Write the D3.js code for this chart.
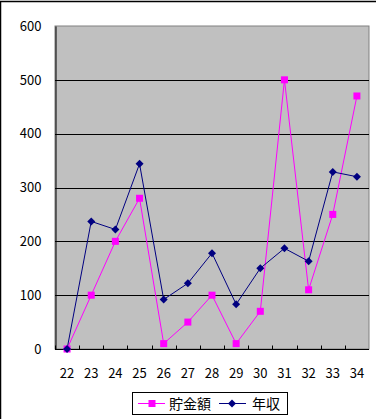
<!DOCTYPE html>
<html lang="ja">
<head>
  <meta charset="UTF-8">
  <title>貯金額と年収</title>
  <style>
    body { margin: 0; background: #fff; }
    svg { display: block; }
    text { font-family: "Noto Sans CJK JP", "DejaVu Sans", sans-serif; }
  </style>
  <script src="https://d3js.org/d3.v7.min.js"></script>
</head>
<body>
  <svg id="chart" width="389" height="419"></svg>

  <script>
    // data
    const ages = ['22', '23', '24', '25', '26', '27', '28', '29', '30', '31', '32', '33', '34'];
    const savings = [0, 100, 200, 280, 10, 50, 100, 10, 70, 500, 110, 250, 470];
    const income = [0, 237, 222, 344, 92, 122, 178, 83, 150, 187, 163, 329, 320];
    const yTicks = [0, 100, 200, 300, 400, 500, 600];

    const svg = d3.select('#chart');
    const plotLeft = 55, plotRight = 369, plotTop = 26, plotBottom = 349;

    const x = d3.scaleBand().domain(ages).range([plotLeft, plotRight]);
    const y = d3.scaleLinear().domain([0, 600]).range([plotBottom, plotTop]);

    // outer frame (only top and left visible)
    svg.append('path')
      .attr('d', 'M0.5,419 V1.5 H376')
      .attr('fill', 'none')
      .attr('stroke', '#000')
      .attr('stroke-width', 1.5);

    // plot area
    svg.append('rect')
      .attr('x', plotLeft).attr('y', plotTop)
      .attr('width', plotRight - plotLeft).attr('height', plotBottom - plotTop)
      .attr('fill', '#c0c0c0')
      .attr('stroke', '#808080');

    // gridlines
    svg.append('g')
      .selectAll('line')
      .data(yTicks.filter(d => d > 0 && d < 600))
      .join('line')
      .attr('x1', plotLeft).attr('x2', plotRight)
      .attr('y1', d => Math.round(y(d)) + 0.5).attr('y2', d => Math.round(y(d)) + 0.5)
      .attr('stroke', '#000');

    // y axis
    const yAxis = svg.append('g')
      .attr('transform', `translate(${plotLeft + 0.5},0)`)
      .call(d3.axisLeft(y).tickValues(yTicks).tickSize(0).tickPadding(14));
    yAxis.select('.domain').attr('stroke', '#000');
    yAxis.selectAll('text').attr('font-size', 13).attr('fill', '#000')
      .attr('font-family', '"DejaVu Sans", sans-serif');

    // x axis: ticks between categories
    const xAxis = svg.append('g')
      .attr('transform', `translate(0,${plotBottom + 0.5})`);
    xAxis.append('line')
      .attr('x1', plotLeft).attr('x2', plotRight)
      .attr('stroke', '#000');
    xAxis.selectAll('line.tick')
      .data(ages)
      .join('line')
      .attr('class', 'tick')
      .attr('x1', d => Math.round(x(d)) + 0.5).attr('x2', d => Math.round(x(d)) + 0.5)
      .attr('y1', 0).attr('y2', -4)
      .attr('stroke', '#000');
    xAxis.selectAll('text')
      .data(ages)
      .join('text')
      .attr('x', d => x(d) + x.bandwidth() / 2)
      .attr('y', 28)
      .attr('text-anchor', 'middle')
      .attr('font-size', 13)
      .attr('font-family', '"DejaVu Sans", sans-serif')
      .text(d => d);

    const cx = (d, i) => x(ages[i]) + x.bandwidth() / 2;
    const line = d3.line().x((d, i) => cx(d, i)).y(d => y(d));

    // 貯金額 series
    svg.append('path')
      .datum(savings)
      .attr('d', line)
      .attr('fill', 'none')
      .attr('stroke', '#ff00ff')
      .attr('stroke-width', 1);

    // 年収 series
    svg.append('path')
      .datum(income)
      .attr('d', line)
      .attr('fill', 'none')
      .attr('stroke', '#000080')
      .attr('stroke-width', 1);

    svg.append('g')
      .selectAll('rect')
      .data(savings)
      .join('rect')
      .attr('x', (d, i) => cx(d, i) - 3.5)
      .attr('y', d => y(d) - 3.5)
      .attr('width', 7).attr('height', 7)
      .attr('fill', '#ff00ff');

    const diamond = 'M0,-4 L4,0 L0,4 L-4,0 Z';
    svg.append('g')
      .selectAll('path')
      .data(income)
      .join('path')
      .attr('d', diamond)
      .attr('transform', (d, i) => `translate(${cx(d, i)},${y(d)})`)
      .attr('fill', '#000080');

    // legend
    const legend = svg.append('g');
    legend.append('rect')
      .attr('x', 132.5).attr('y', 392.5)
      .attr('width', 155).attr('height', 22)
      .attr('fill', '#fff').attr('stroke', '#000');

    legend.append('line')
      .attr('x1', 138).attr('x2', 165).attr('y1', 403.5).attr('y2', 403.5)
      .attr('stroke', '#ff00ff');
    legend.append('rect')
      .attr('x', 148.5).attr('y', 400).attr('width', 7).attr('height', 7)
      .attr('fill', '#ff00ff');
    legend.append('text')
      .attr('x', 169).attr('y', 409)
      .attr('font-size', 14)
      .text('貯金額');

    legend.append('line')
      .attr('x1', 219).attr('x2', 246).attr('y1', 403.5).attr('y2', 403.5)
      .attr('stroke', '#000080');
    legend.append('path')
      .attr('d', diamond)
      .attr('transform', 'translate(232,403.5)')
      .attr('fill', '#000080');
    legend.append('text')
      .attr('x', 252).attr('y', 409)
      .attr('font-size', 14)
      .text('年収');
  </script>
</body>
</html>
